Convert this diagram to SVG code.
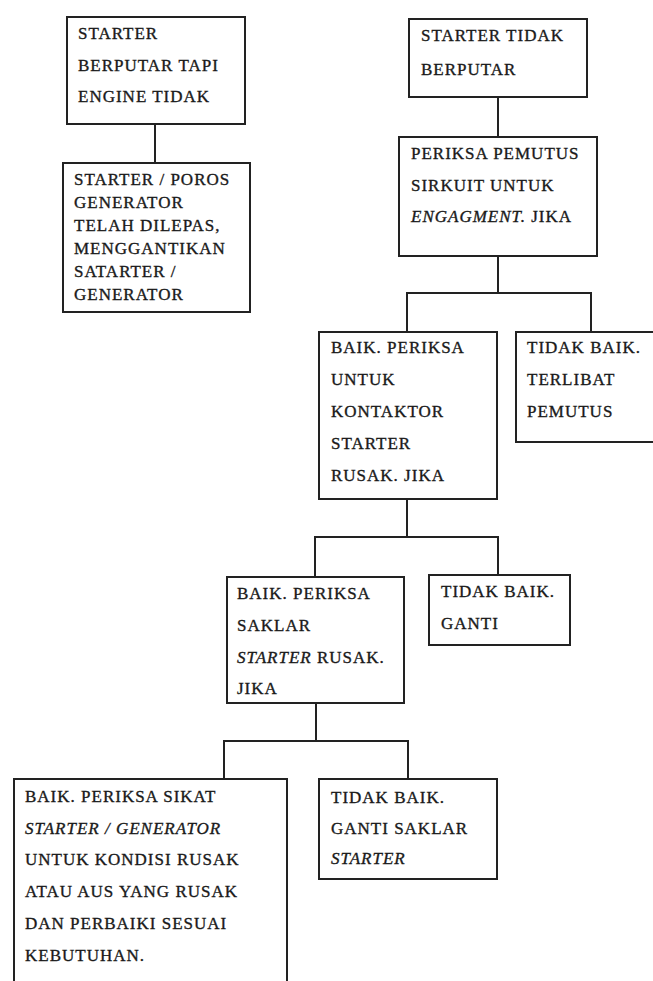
<svg xmlns="http://www.w3.org/2000/svg" width="653" height="981" viewBox="0 0 653 981">
<style>
.box{fill:#fff;stroke:#222;stroke-width:2}
.t{font-family:"Liberation Serif","Times New Roman",serif;font-size:17px;letter-spacing:1px;fill:#1a1a1a;stroke:#1a1a1a;stroke-width:0.35}
.i{font-style:italic}
.c{fill:none;stroke:#222;stroke-width:2}
</style>
<rect width="653" height="981" fill="#fff"/>
<g id="connectors">
<path class="c" d="M155 124V163"/>
<path class="c" d="M498 97V137"/>
<path class="c" d="M498 256V293M407 332V293H591V332"/>
<path class="c" d="M407 499V537M315 577V537H498V575"/>
<path class="c" d="M316 703V741M224 779V741H408V779"/>
</g>
<g id="n1">
<rect class="box" x="67" y="17" width="178" height="107"/>
<text class="t" x="78" y="39">STARTER</text>
<text class="t" x="78" y="71">BERPUTAR TAPI</text>
<text class="t" x="78" y="102">ENGINE TIDAK</text>
</g>
<g id="n2">
<rect class="box" x="63" y="163" width="187" height="149"/>
<text class="t" x="74" y="185">STARTER / POROS</text>
<text class="t" x="74" y="208">GENERATOR</text>
<text class="t" x="74" y="231">TELAH DILEPAS,</text>
<text class="t" x="74" y="254">MENGGANTIKAN</text>
<text class="t" x="74" y="277">SATARTER /</text>
<text class="t" x="74" y="300">GENERATOR</text>
</g>
<g id="n3">
<rect class="box" x="409" y="19" width="178" height="78"/>
<text class="t" x="421" y="41">STARTER TIDAK</text>
<text class="t" x="421" y="75">BERPUTAR</text>
</g>
<g id="n4">
<rect class="box" x="399" y="137" width="198" height="119"/>
<text class="t" x="411" y="159">PERIKSA PEMUTUS</text>
<text class="t" x="411" y="191">SIRKUIT UNTUK</text>
<text class="t" x="411" y="222"><tspan class="i">ENGAGMENT.</tspan> JIKA</text>
</g>
<g id="n5">
<rect class="box" x="319" y="332" width="178" height="167"/>
<text class="t" x="331" y="353">BAIK. PERIKSA</text>
<text class="t" x="331" y="385">UNTUK</text>
<text class="t" x="331" y="417">KONTAKTOR</text>
<text class="t" x="331" y="449">STARTER</text>
<text class="t" x="331" y="481">RUSAK. JIKA</text>
</g>
<g id="n6">
<rect class="box" x="516" y="332" width="150" height="110"/>
<text class="t" x="527" y="353">TIDAK BAIK.</text>
<text class="t" x="527" y="385">TERLIBAT</text>
<text class="t" x="527" y="417">PEMUTUS</text>
</g>
<g id="n7">
<rect class="box" x="227" y="577" width="177" height="126"/>
<text class="t" x="237" y="599">BAIK. PERIKSA</text>
<text class="t" x="237" y="631">SAKLAR</text>
<text class="t" x="237" y="663"><tspan class="i">STARTER</tspan> RUSAK.</text>
<text class="t" x="237" y="694">JIKA</text>
</g>
<g id="n8">
<rect class="box" x="429" y="575" width="141" height="70"/>
<text class="t" x="441" y="597">TIDAK BAIK.</text>
<text class="t" x="441" y="629">GANTI</text>
</g>
<g id="n9">
<rect class="box" x="14" y="779" width="273" height="215"/>
<text class="t" x="25" y="802">BAIK. PERIKSA SIKAT</text>
<text class="t i" x="25" y="834">STARTER / GENERATOR</text>
<text class="t" x="25" y="865">UNTUK KONDISI RUSAK</text>
<text class="t" x="25" y="897">ATAU AUS YANG RUSAK</text>
<text class="t" x="25" y="929">DAN PERBAIKI SESUAI</text>
<text class="t" x="25" y="961">KEBUTUHAN.</text>
</g>
<g id="n10">
<rect class="box" x="319" y="779" width="178" height="100"/>
<text class="t" x="331" y="803">TIDAK BAIK.</text>
<text class="t" x="331" y="834">GANTI SAKLAR</text>
<text class="t i" x="331" y="864">STARTER</text>
</g>
</svg>
